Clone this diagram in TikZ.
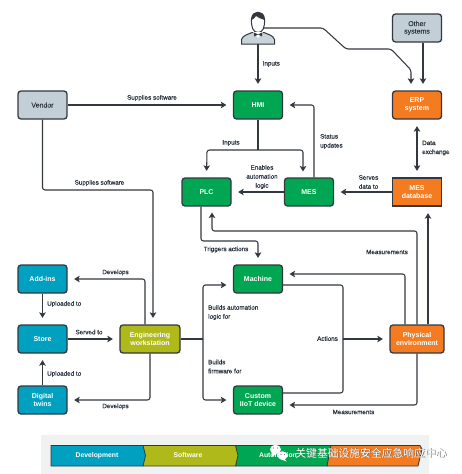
\documentclass[tikz,border=0pt]{standalone}
\usepackage{fontspec}
\setmainfont{Liberation Sans}
\newfontfamily\labfont[FakeBold=0.35]{Liberation Sans}
\newfontfamily\cjkfont{Noto Sans CJK SC}
\usetikzlibrary{arrows.meta,calc}
\definecolor{ink}{HTML}{33383F}
\definecolor{lab}{HTML}{26303E}
\definecolor{cblue}{HTML}{00A0C1}
\definecolor{cgreen}{HTML}{00A651}
\definecolor{corange}{HTML}{F57B20}
\definecolor{colive}{HTML}{B0B91A}
\definecolor{cgrey}{HTML}{C3CFD6}
\definecolor{legbg}{HTML}{F0F2F2}
\tikzset{
  x=1pt,y=-1pt,
  box/.style={draw=ink,line width=1.3pt,rounded corners=3pt,minimum width=49pt,minimum height=28pt,inner sep=0pt,align=center,font=\bfseries\fontsize{7}{9}\selectfont,text=white},
  bluebox/.style={box,fill=cblue},
  greenbox/.style={box,fill=cgreen},
  orangebox/.style={box,fill=corange},
  greybox/.style={box,fill=cgrey,text=ink,font=\labfont\fontsize{7}{9}\selectfont},
  conn/.style={draw=ink,line width=1.05pt,rounded corners=2.5pt},
  heavy/.style={draw=ink,line width=1.5pt,rounded corners=2.5pt},
  tip/.style={-{Stealth[length=5.5pt,width=6.5pt,inset=1.2pt]},shorten >=6.5pt},
  tips/.style={{Stealth[length=5.5pt,width=6.5pt,inset=1.2pt]}-{Stealth[length=5.5pt,width=6.5pt,inset=1.2pt]},shorten >=6.5pt,shorten <=6.5pt},
  lbl/.style={inner sep=0pt,text=lab,align=center,font=\labfont\fontsize{6.3}{9}\selectfont},
  lbll/.style={lbl,align=left,anchor=west},
  leg/.style={inner sep=0pt,text=white,font=\bfseries\fontsize{6.8}{8}\selectfont},
  seg/.style={draw=ink,line width=0.8pt},
  wm/.style={inner sep=0pt,font=\cjkfont\fontsize{10.8}{12}\selectfont}
}
\begin{document}
\begin{tikzpicture}
\useasboundingbox[fill=white] (0,0) rectangle (462,474);

% nodes
\node[greybox] (vendor) at (42.5,105) {Vendor};
\node[greenbox] (hmi) at (258,105) {HMI};
\node[greenbox] (plc) at (206.5,192) {PLC};
\node[greenbox] (mes) at (309,192) {MES};
\node[orangebox,rounded corners=0pt] (db) at (417,192) {MES\\[-1.5pt]database};
\node[orangebox] (erp) at (417,105) {ERP\\[-1.5pt]system};
\node[greybox] (other) at (417,28) {Other\\[-1.5pt]systems};
\node[bluebox] (addins) at (42.5,279) {Add-ins};
\node[bluebox] (store) at (42.5,339) {Store};
\node[bluebox] (twins) at (42.5,400) {Digital\\[-1.5pt]twins};
\node[box,fill=colive,minimum width=60pt] (eng) at (150,339) {Engineering\\[-1.5pt]workstation};
\node[greenbox] (machine) at (258,279) {Machine};
\node[greenbox] (iiot) at (258,400) {Custom\\[-1.5pt]IIoT device};
\node[orangebox,minimum width=54pt] (phys) at (417,339) {Physical\\[-1.5pt]environment};

% person
\coordinate (person) at (258,28);
\coordinate (personb) at (258,44);
\fill[cgrey!90!white,draw=ink,line width=1pt] (241.5,44) -- (241.5,39.5) .. controls (243,35) and (248,34.5) .. (252,32.5) -- (264,32.5) .. controls (268,34.5) and (273,35) .. (274.5,39.5) -- (274.5,44) -- cycle;
\fill[white,draw=ink,line width=1pt] (251.5,19) .. controls (251,27) and (253,32.5) .. (258,32.5) .. controls (263,32.5) and (265,27) .. (264.5,19) .. controls (264,14) and (261,12.3) .. (258,12.3) .. controls (255,12.3) and (252,14) .. (251.5,19) -- cycle;
\fill[ink] (251.5,20) .. controls (251.5,14) and (255,12.3) .. (258,12.3) .. controls (262,12.3) and (264.5,15) .. (264.5,20) .. controls (261,19) and (258,17.5) .. (256,16) .. controls (255,18) and (253,19.5) .. (251.5,20) -- cycle;
\fill[white] (253,32) -- (258,38) -- (263,32) -- cycle;
\fill[ink] (254,32.5) -- (258,34.5) -- (262,32.5) -- (262,36.5) -- (258,34.5) -- (254,36.5) -- cycle;

% routing points
\coordinate (hb) at (258,150);
\coordinate (eb) at (203,339);
\coordinate (ab) at (343,339);

% connectors
\draw[heavy,tip] (personb) -- (hmi.north);
\draw[conn,tip] (264,28) -- (323,28) -- (346,49) -- (391,49) -- (411,70) -- ([xshift=-6pt]erp.north);
\draw[heavy,tip] (other.south -| 423,0) -- ([xshift=6pt]erp.north);
\draw[heavy,tips] (erp.south) -- (db.north);
\draw[heavy,tip] (db.west) -- (mes.east);
\draw[heavy,tip] (mes.west) -- (plc.east);
\draw[conn,tip] (mes.north -| 314,0) -- (314,105) -- (hmi.east);
\draw[heavy] (hmi.south) -- (hb);
\draw[conn,tip] (hb) -- (207,150) -- (plc.north);
\draw[conn,tip] (hb) -- (303,150) -- (303,178);
\draw[heavy,tip] (vendor.east) -- (hmi.west);
\draw[conn,tip] (vendor.south) -- (42.5,190) -- (153,190) -- ([xshift=3pt]eng.north);
\draw[conn,tip] (plc.south -| 201,0) -- (201,241) -- (258,241) -- (machine.north);
\draw[conn,tip] (phys.north) -- (417,231) -- (212,231) -- (212,206);
\draw[heavy,tip] (phys.north -| 428,0) -- (db.south -| 428,0);
\draw[conn,tip] (phys.north -| 405,0) -- (405,274) -- (283,274);
\draw[conn] (machine.east |- 0,285) -- (343,285) -- (343,393) -- (iiot.east |- 0,393);
\draw[heavy,tip] (ab) -- (phys.west);
\draw[conn,tip] (phys.south) -- (417,405) -- (283,405);
\draw[conn,tip] ([xshift=-5pt]eng.north) -- (145,279) -- (addins.east);
\draw[conn,tip] (eng.south) -- (150,400) -- (twins.east);
\draw[heavy,tip] (store.east) -- (eng.west);
\draw[heavy,tip] (addins.south) -- (store.north);
\draw[heavy,tip] (twins.north) -- (store.south);
\draw[heavy] (eng.east) -- (eb);
\draw[conn,tip] (eb) -- (203,285) -- (machine.west |- 0,285);
\draw[conn,tip] (eb) -- (203,400) -- (iiot.west);

% labels
\node[lbll] (l1) at (262.5,64) {Inputs};
\node[lbl] (l2) at (152,98) {Supplies software};
\node[lbl] (l3) at (99.5,183) {Supplies software};
\node[lbl] (l4) at (231,143) {Inputs};
\node[lbl] (l5) at (262,177) {Enables\\automation\\logic};
\node[lbll] (l6) at (320,141.5) {Status\\updates};
\node[lbl] (l7) at (368.5,182) {Serves\\data to};
\node[lbll] (l8) at (422,148) {Data\\exchange};
\node[lbl] (l9) at (226,249.5) {Triggers actions};
\node[lbl] (l10) at (387,252) {Measurements};
\node[lbl] (l11) at (115.5,272.5) {Develops};
\node[lbl] (l12) at (115.5,406.5) {Develops};
\node[lbll] (l13) at (47,304) {Uploaded to};
\node[lbl] (l14) at (89,332) {Served to};
\node[lbll] (l15) at (47,374) {Uploaded to};
\node[lbll] (l16) at (208,312.5) {Builds automation\\logic for};
\node[lbll] (l17) at (208,366.5) {Builds\\firmware for};
\node[lbl] (l18) at (327.5,338.5) {Actions};
\node[lbl] (l19) at (353.5,412) {Measurements};

% legend
\fill[legbg] (41,435) rectangle (429,474);
\fill[corange,seg] (325,445.5) -- (420,445.5) -- (422,449) -- (418,466) -- (327,466) -- cycle;
\fill[cgreen,seg] (236,445.5) -- (331,445.5) -- (327,466) -- (236,466) -- cycle;
\fill[colive,seg] (143,445.5) -- (235.5,445.5) -- (238,455.5) -- (235.5,466) -- (143,466) -- cycle;
\fill[cblue,seg] (51,445.5) -- (143,445.5) -- (145.5,455.5) -- (143,466) -- (51,466) -- cycle;
\node[leg] (d) at (97,455.5) {Development};
\node[leg] (s) at (188,455.5) {Software};
\node[leg] (a) at (278,455.5) {Automation};

% watermark
\fill[white] (275.5,449.5) ellipse (5.5 and 4.8);
\fill[white] (282.5,455.5) ellipse (5 and 4.2);
\fill[white] (272.5,453) -- (271.5,457) -- (276,454) -- cycle;
\fill[white] (284,458) -- (286.5,461.5) -- (280,459) -- cycle;
\fill[ink!70] (273.5,448) circle (0.7) (277.5,448) circle (0.7) (281,454.5) circle (0.6) (284.5,454.5) circle (0.6);
\node[wm,text=black!60] (wms) at (371.8,453.8) {关键基础设施安全应急响应中心};
\node[wm,text=white] (wmt) at (371,453) {关键基础设施安全应急响应中心};
\end{tikzpicture}
\end{document}
